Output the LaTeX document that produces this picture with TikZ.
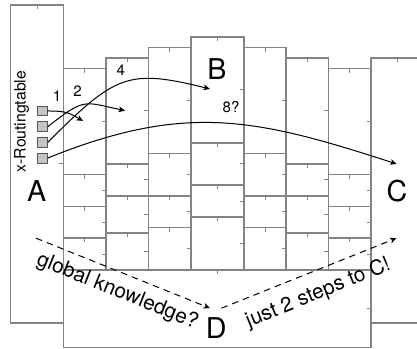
\documentclass[tikz,border=0pt]{standalone}
\usepackage{fontspec}
\setmainfont{TeX Gyre Heros}
\usetikzlibrary{arrows.meta}
\definecolor{zonegray}{HTML}{838383}
\definecolor{tablegray}{HTML}{C4C4C4}
\definecolor{tableedge}{HTML}{555555}

\begin{document}
\begin{tikzpicture}[x=0.26cm,y=0.26cm,
    zone/.style={zonegray,line width=1.05pt},
    zonetick/.style={zonegray,line width=0.7pt},
    entry/.style={draw=tableedge,fill=tablegray,line width=0.6pt,minimum size=0.24cm,inner sep=0pt},
    link/.style={-{Stealth[length=4.5pt,width=4pt,inset=1.2pt]},line width=0.7pt},
    hint/.style={link,dash pattern=on 4.5pt off 3.5pt},
    peer/.style={font=\fontsize{20}{24}\selectfont},
    hop/.style={font=\fontsize{10.5}{12}\selectfont},
    remark/.style={font=\fontsize{14.5}{17}\selectfont}]
  \useasboundingbox (0,-7.45) rectangle (39.34,25.47);
  \clip (0,-7.45) rectangle (39.34,25.47);
  % Zones (left, bottom, right, top), each with a tick on its top and right edge
  \foreach \xa/\ya/\xb/\yb in {1/-5/6/25, 35/-5/40/20, 6/-7.33/35/0,
      6/9/10/19, 6/6/10/9, 6/3/10/6, 6/0/10/3,
      10/10/14/20, 10/7/14/10, 10/3.5/14/7, 10/0/14/3.5,
      14/11/18/21, 14/7/18/11, 14/4/18/7, 14/0/18/4,
      18/12/23/22, 18/8/23/12, 18/5/23/8, 18/0/23/5,
      23/11/27/21, 23/7/27/11, 23/4/27/7, 23/0/27/4,
      27/10/31/20, 27/7/31/10, 27/3.5/31/7, 27/0/31/3.5,
      31/9/35/19, 31/6/35/9, 31/3/35/6, 31/0/35/3}
  {
    \draw[zone] (\xa,\ya) rectangle (\xb,\yb);
    \draw[zonetick] ({(\xa+\xb)/2},\yb) -- ++(0,-0.4);
    \draw[zonetick] (\xb,{(\ya+\yb)/2}) -- ++(-0.4,0);
  }
  % Peers
  \node[peer] (A) at (3.47,7.47) {A};
  \node[peer] (B) at (20.47,19.0) {B};
  \node[peer] (C) at (37.45,7.47) {C};
  \node[peer] (D) at (20.4,-5.5) {D};
  % Routing table of A
  \node[rotate=90,font=\fontsize{11}{13}\selectfont] (rtlabel) at (2.03,14) {x-Routingtable};
  \foreach \i in {1,...,4}
    \node[entry] (rt\i) at (4,{15-1.48*(\i-1)}) {};
  \node[hop] (hop1) at (5.38,16.4) {1};
  \node[hop] (hop2) at (7.31,16.84) {2};
  \node[hop] (hop4) at (11.4,18.87) {4};
  \node[hop] (hop8) at (21.8,15.38) {8?};
  % Entry targets
  \coordinate (t1) at (7.83,14.06);
  \coordinate (t2) at (11.8,15.03);
  \coordinate (t3) at (19.8,17.08);
  \coordinate (t4) at (37.42,10);
  \draw[link] (rt1.east) .. controls +(0:1.8) and +(150:1.5) .. (t1);
  \draw[link] (rt2.east) .. controls +(38:4.5) and +(168:4) .. (t2);
  \draw[link] (rt3.east) .. controls +(45:9) and +(166:8) .. (t3);
  \draw[link] (rt4.east) .. controls +(22:14) and +(162:14) .. (t4);
  % Detour over D
  \coordinate (fromA) at (3.4,3);
  \coordinate (toD) at (19.8,-3.6);
  \coordinate (fromD) at (20.9,-3.6);
  \coordinate (toC) at (37.4,3);
  \draw[hint] (fromA) -- (toD);
  \draw[hint] (fromD) -- (toC);
  \node[remark,rotate=-22] (ask) at (11.08,-2.05) {global knowledge?};
  \node[remark,rotate=22] (tell) at (30.03,-2.2) {just 2 steps to C!};
\end{tikzpicture}
\end{document}
